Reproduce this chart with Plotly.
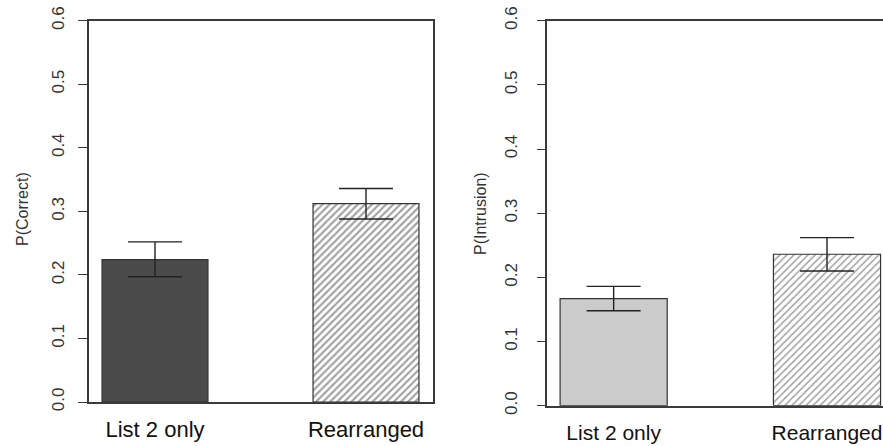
import plotly.graph_objects as go

categories = ["List 2 only", "Rearranged"]
correct_means = [0.224, 0.312]
correct_upper = [0.252, 0.336]
correct_lower = [0.197, 0.288]
intrusion_means = [0.167, 0.236]
intrusion_upper = [0.186, 0.262]
intrusion_lower = [0.148, 0.210]
y_ticks = [0.0, 0.1, 0.2, 0.3, 0.4, 0.5, 0.6]
y_tick_text = ["0.0", "0.1", "0.2", "0.3", "0.4", "0.5", "0.6"]

W, H = 883, 446
FONT = "Liberation Sans, Arial, Helvetica, sans-serif"
AX = "#3a3a3a"

fig = go.Figure()


def add_bars(means, upper, lower, solid_color, hatch_color, solidity, xa, ya):
    plus = [u - m for u, m in zip(upper, means)]
    minus = [m - l for m, l in zip(means, lower)]
    fig.add_trace(go.Bar(
        x=[0, 1], y=means, width=0.502,
        marker=dict(
            color=[solid_color, "white"],
            line=dict(color="#333333", width=1.2),
            pattern=dict(shape=["", "/"], fgcolor=hatch_color, bgcolor="white",
                         size=5, solidity=solidity, fillmode="overlay"),
        ),
        error_y=dict(type="data", symmetric=False, array=plus, arrayminus=minus,
                     color="#222222", thickness=1.4, width=27),
        xaxis=xa, yaxis=ya, showlegend=False, hoverinfo="skip",
    ))


add_bars(correct_means, correct_upper, correct_lower, "#4b4b4b", "#333333", 0.42, "x", "y")
add_bars(intrusion_means, intrusion_upper, intrusion_lower, "#cbcbcb", "#dadada", 0.3, "x2", "y2")


def xaxis_style(size):
    return dict(tickvals=[0, 1], ticktext=categories, showline=True, linecolor=AX,
                linewidth=1.5, ticks="", showgrid=False, zeroline=False,
                tickfont=dict(family=FONT, size=size, color="#111111"),
                ticklabelstandoff=7, automargin=False, fixedrange=True)


ycommon = dict(range=[0, 0.6], tickvals=y_ticks, ticktext=y_tick_text, showline=True,
               linecolor=AX, linewidth=1.5, ticks="outside", ticklen=9, tickwidth=1.3,
               tickcolor=AX, showgrid=False, zeroline=False, tickangle=-90,
               tickfont=dict(family=FONT, size=17, color="#333333"),
               automargin=False, fixedrange=True)

fig.update_layout(
    width=W, height=H,
    margin=dict(l=0, r=0, t=0, b=0),
    paper_bgcolor="white", plot_bgcolor="white",
    xaxis=dict(domain=[89 / W, 433 / W], range=[-0.3128, 1.3175], mirror=True,
               anchor="y", **xaxis_style(22)),
    yaxis=dict(domain=[(H - 402) / H, (H - 20.7) / H], mirror=True, anchor="x",
               ticklabelstandoff=7, **ycommon),
    xaxis2=dict(domain=[547.3 / W, 1.0], range=[-0.311, 1.2625], mirror=True,
                anchor="y2", **xaxis_style(21)),
    yaxis2=dict(domain=[(H - 405.7) / H, (H - 20.7) / H], mirror=False, anchor="x2",
                ticklabelstandoff=13, **ycommon),
    annotations=[
        dict(text="P(Correct)", x=22 / W, y=(H - 209) / H, xref="paper", yref="paper",
             textangle=-90, showarrow=False, xanchor="center", yanchor="middle",
             font=dict(family=FONT, size=16, color="#333333")),
        dict(text="P(Intrusion)", x=480 / W, y=(H - 213) / H, xref="paper", yref="paper",
             textangle=-90, showarrow=False, xanchor="center", yanchor="middle",
             font=dict(family=FONT, size=16, color="#333333")),
    ],
)

fig.write_html("out.html", config={"displayModeBar": False})
